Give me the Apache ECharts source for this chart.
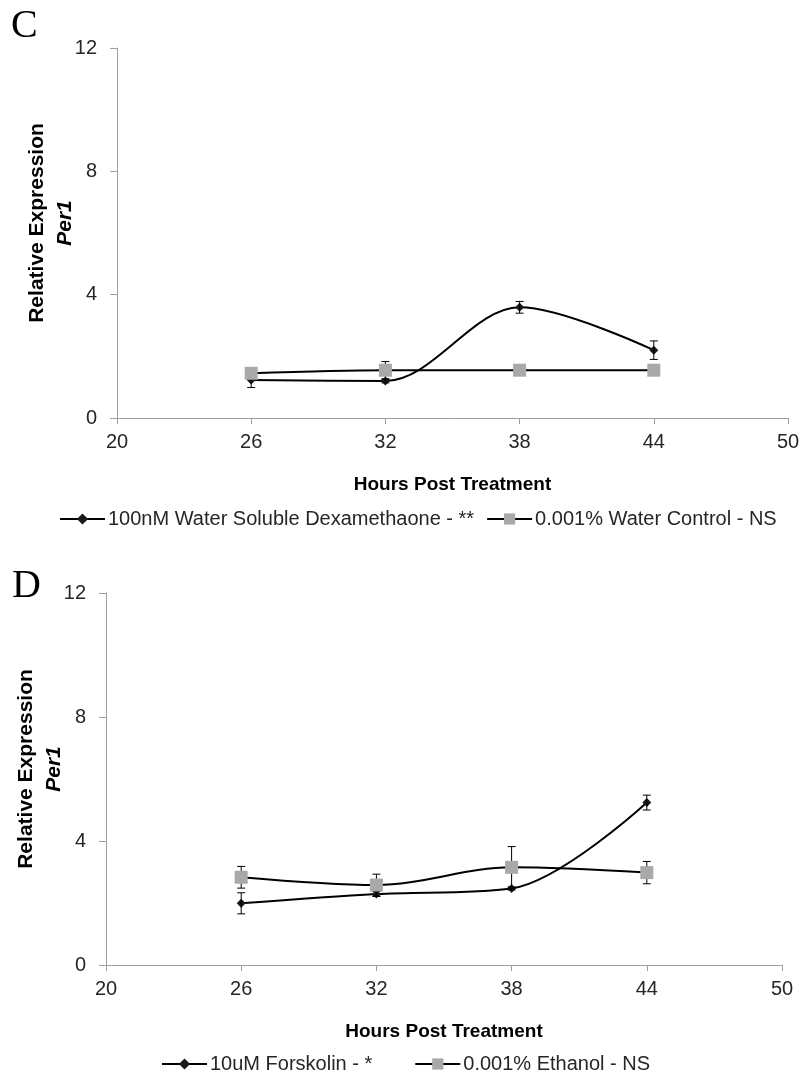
<!DOCTYPE html>
<html>
<head>
<meta charset="utf-8">
<script src="https://cdn.jsdelivr.net/npm/echarts@6/dist/echarts.min.js"></script>
<style>
html,body{margin:0;padding:0;background:#fff;}
#chart{width:803px;height:1075px;}
</style>
</head>
<body>
<div id="chart"></div>
<script>
// ---- Data ----
const hours = [26, 32, 38, 44];
const xTicks = [20, 26, 32, 38, 44, 50];
const yTicks = [0, 4, 8, 12];

// Panel C
const nameC1 = '100nM Water Soluble Dexamethaone - **';
const nameC2 = '0.001% Water Control - NS';
const dexVals = [1.23, 1.20, 3.59, 2.20];
const dexErr = [0.24, 0.06, 0.19, 0.30];
const waterVals = [1.45, 1.55, 1.55, 1.55];
const waterErr = [0.10, 0.28, 0.05, 0.05];

// Panel D
const nameD1 = '10uM Forskolin - *';
const nameD2 = '0.001% Ethanol - NS';
const forskVals = [1.99, 2.29, 2.47, 5.24];
const forskErr = [0.34, 0.08, 0.05, 0.24];
const ethVals = [2.83, 2.58, 3.15, 2.98];
const ethErr = [0.35, 0.35, 0.67, 0.36];

// ---- Helpers ----
const FONT = '"Liberation Sans", Arial, sans-serif';
const AXIS_COLOR = '#a0a0a0';
const TEXT_COLOR = '#262626';

function pts(vals) { return hours.map((h, i) => [h, vals[i]]); }
function errData(vals, errs) { return hours.map((h, i) => [h, vals[i] - errs[i], vals[i] + errs[i]]); }

function errRender(params, api) {
  const x = api.value(0);
  const lo = api.coord([x, api.value(1)]);
  const hi = api.coord([x, api.value(2)]);
  const w = 4;
  const st = { stroke: '#000', lineWidth: 1 };
  return {
    type: 'group',
    children: [
      { type: 'line', shape: { x1: lo[0], y1: lo[1], x2: hi[0], y2: hi[1] }, style: st },
      { type: 'line', shape: { x1: lo[0] - w, y1: lo[1], x2: lo[0] + w, y2: lo[1] }, style: st },
      { type: 'line', shape: { x1: hi[0] - w, y1: hi[1], x2: hi[0] + w, y2: hi[1] }, style: st }
    ]
  };
}

function xAxisCfg(gridIndex) {
  return {
    type: 'value', gridIndex: gridIndex,
    min: xTicks[0], max: xTicks[xTicks.length - 1], interval: xTicks[1] - xTicks[0],
    name: 'Hours Post Treatment', nameLocation: 'middle', nameGap: 57, nameMoveOverlap: false,
    nameTextStyle: { fontFamily: FONT, fontSize: 19, fontWeight: 'bold', color: '#000' },
    axisLine: { show: true, lineStyle: { color: AXIS_COLOR, width: 1 } },
    axisTick: { show: true, length: 6, lineStyle: { color: AXIS_COLOR } },
    axisLabel: { fontFamily: FONT, fontSize: 20, color: TEXT_COLOR, margin: 14 },
    splitLine: { show: false }
  };
}
function yAxisCfg(gridIndex) {
  return {
    type: 'value', gridIndex: gridIndex,
    min: yTicks[0], max: yTicks[yTicks.length - 1], interval: yTicks[1] - yTicks[0],
    name: '{a|Relative Expression}\n{b|Per1}', nameLocation: 'middle', nameGap: 38, nameMoveOverlap: false,
    nameTextStyle: {
      align: 'center',
      lineHeight: 28,
      padding: [0, 0, 0, 20],
      rich: {
        a: { fontFamily: FONT, fontSize: 21, fontWeight: 'bold', color: '#000', lineHeight: 28 },
        b: { fontFamily: FONT, fontSize: 21, fontWeight: 'bold', fontStyle: 'italic', color: '#000', lineHeight: 28 }
      }
    },
    axisLine: { show: true, lineStyle: { color: AXIS_COLOR, width: 1 } },
    axisTick: { show: true, length: 7, lineStyle: { color: AXIS_COLOR } },
    axisLabel: { fontFamily: FONT, fontSize: 20, color: TEXT_COLOR, margin: 20 },
    splitLine: { show: false }
  };
}

function lineSeries(name, vals, idx, kind) {
  const isDiamond = kind === 'diamond';
  return {
    type: 'line', name: name, xAxisIndex: idx, yAxisIndex: idx,
    data: pts(vals), smooth: 0.33,
    symbol: isDiamond ? 'diamond' : 'rect',
    symbolSize: isDiamond ? 9 : 13,
    itemStyle: { color: isDiamond ? '#1a1a1a' : '#a9a9a9', borderWidth: 0 },
    lineStyle: { color: '#000', width: 2 },
    z: isDiamond ? 2 : 4,
    emphasis: { disabled: true }
  };
}
function errSeries(vals, errs, idx, z) {
  return {
    type: 'custom', xAxisIndex: idx, yAxisIndex: idx,
    data: errData(vals, errs), renderItem: errRender,
    encode: { x: 0, y: [1, 2] }, z: z, silent: true
  };
}

const option = {
  animation: false,
  backgroundColor: '#fff',
  graphic: [
    { type: 'text', left: 11, top: 6, style: { text: 'C', font: '40px "Liberation Serif", "DejaVu Serif", serif', fill: '#000' } },
    { type: 'text', left: 12, top: 566, style: { text: 'D', font: '40px "Liberation Serif", "DejaVu Serif", serif', fill: '#000' } }
  ],
  grid: [
    { left: 117, right: 15, top: 48, height: 370, outerBoundsMode: 'none', containLabel: false },
    { left: 106, right: 21, top: 593, height: 372, outerBoundsMode: 'none', containLabel: false }
  ],
  xAxis: [xAxisCfg(0), xAxisCfg(1)],
  yAxis: [yAxisCfg(0), yAxisCfg(1)],
  legend: [
    {
      data: [nameC1, nameC2], left: 54, top: 504, itemWidth: 45, itemHeight: 14, itemGap: 12,
      textStyle: { fontFamily: FONT, fontSize: 20, color: TEXT_COLOR, padding: [0, 0, 0, -2] },
      selectedMode: false
    },
    {
      data: [nameD1, nameD2], left: 156, top: 1049, itemWidth: 45, itemHeight: 14, itemGap: 42,
      textStyle: { fontFamily: FONT, fontSize: 20, color: TEXT_COLOR, padding: [0, 0, 0, -2] },
      selectedMode: false
    }
  ],
  series: [
    lineSeries(nameC1, dexVals, 0, 'diamond'),
    errSeries(dexVals, dexErr, 0, 3),
    lineSeries(nameC2, waterVals, 0, 'square'),
    errSeries(waterVals, waterErr, 0, 3),
    lineSeries(nameD1, forskVals, 1, 'diamond'),
    errSeries(forskVals, forskErr, 1, 3),
    lineSeries(nameD2, ethVals, 1, 'square'),
    errSeries(ethVals, ethErr, 1, 3)
  ]
};

const chart = echarts.init(document.getElementById('chart'), null, { renderer: 'canvas' });
chart.setOption(option);
</script>
</body>
</html>
